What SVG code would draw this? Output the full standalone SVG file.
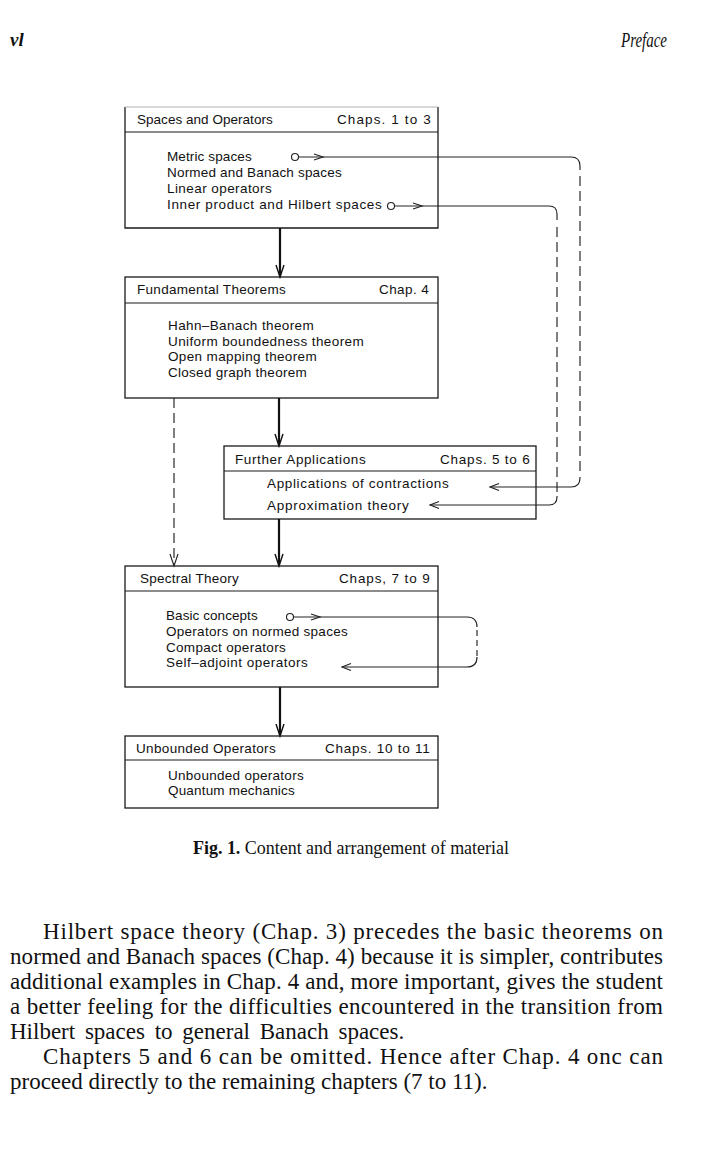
<svg xmlns="http://www.w3.org/2000/svg" xmlns:xlink="http://www.w3.org/1999/xlink" width="702" height="1159" viewBox="0 0 702 1159">
<style>
.bx{fill:none;stroke:#1a1a1a;stroke-width:1.3}
.hl{stroke:#1a1a1a;stroke-width:1.2}
.t{font-family:"Liberation Sans",Arial,sans-serif;font-size:13.5px;fill:#111;letter-spacing:0.3px}
.stem{stroke:#111;stroke-width:2.2;fill:none}
.hd{stroke:#111;stroke-width:1.4;fill:none}
.cn{stroke:#222;stroke-width:1.15;fill:none}
.dl{stroke-dasharray:10 5}
.ds{stroke-dasharray:6 4}
.circ{fill:#fff;stroke:#222;stroke-width:1.15}
.p{font-family:"Liberation Serif","Times New Roman",serif;font-size:23px;fill:#111}
</style>
<defs>
<path id="chevR" d="M-9,-3 L0,0 L-9,3" class="cn"/>
<path id="chevL" d="M9,-3.5 L0,0 L9,3.5" class="cn"/>
<path id="vdown" d="M-4,-12 L0,0 L4,-12" class="hd"/>
</defs>
<rect width="702" height="1159" fill="#fff"/>

<g id="page-header">
<text x="10" y="46" style="font-family:'Liberation Serif',serif;font-size:19px;font-weight:bold;font-style:italic" fill="#111">vl</text>
<text x="667" y="47" text-anchor="end" textLength="46" lengthAdjust="spacingAndGlyphs" style="font-family:'Liberation Serif',serif;font-size:20px;font-style:italic" fill="#111">Preface</text>
</g>

<g id="n-spaces">
<path class="bx" d="M125,107 V228 H438 V107"/>
<path d="M125,107 H438" stroke="#b0b0b0" stroke-width="1"/>
<line class="hl" x1="125" y1="132" x2="438" y2="132"/>
<text class="t" x="137" y="124" textLength="136">Spaces and Operators</text>
<text class="t" x="337" y="124" textLength="94">Chaps. 1 to 3</text>
<text class="t" x="167" y="161" textLength="85">Metric spaces</text>
<text class="t" x="167" y="177" textLength="175">Normed and Banach spaces</text>
<text class="t" x="167" y="193" textLength="105">Linear operators</text>
<text class="t" x="167" y="209" textLength="215">Inner product and Hilbert spaces</text>
</g>

<g id="n-fundamental">
<rect class="bx" x="125" y="277" width="313" height="121"/>
<line class="hl" x1="125" y1="303" x2="438" y2="303"/>
<text class="t" x="137" y="294" textLength="149">Fundamental Theorems</text>
<text class="t" x="379" y="294" textLength="50">Chap. 4</text>
<text class="t" x="168" y="330" textLength="146">Hahn–Banach theorem</text>
<text class="t" x="168" y="346" textLength="196">Uniform boundedness theorem</text>
<text class="t" x="168" y="361" textLength="149">Open mapping theorem</text>
<text class="t" x="168" y="377" textLength="139">Closed graph theorem</text>
</g>

<g id="n-further">
<rect class="bx" x="224" y="446" width="312" height="73"/>
<line class="hl" x1="224" y1="471" x2="536" y2="471"/>
<text class="t" x="235" y="464" textLength="131">Further Applications</text>
<text class="t" x="440" y="464" textLength="90">Chaps. 5 to 6</text>
<text class="t" x="267" y="488" textLength="182">Applications of contractions</text>
<text class="t" x="267" y="510" textLength="142">Approximation theory</text>
</g>

<g id="n-spectral">
<rect class="bx" x="125" y="566" width="313" height="121"/>
<line class="hl" x1="125" y1="591" x2="438" y2="591"/>
<text class="t" x="140" y="583" textLength="99">Spectral Theory</text>
<text class="t" x="339" y="583" textLength="91">Chaps, 7 to 9</text>
<text class="t" x="166" y="620" textLength="92">Basic concepts</text>
<text class="t" x="166" y="636" textLength="182">Operators on normed spaces</text>
<text class="t" x="166" y="652" textLength="120">Compact operators</text>
<text class="t" x="166" y="667" textLength="142">Self–adjoint operators</text>
</g>

<g id="n-unbounded">
<rect class="bx" x="125" y="736" width="313" height="72"/>
<line class="hl" x1="125" y1="760" x2="438" y2="760"/>
<text class="t" x="136" y="753" textLength="140">Unbounded Operators</text>
<text class="t" x="325" y="753" textLength="105">Chaps. 10 to 11</text>
<text class="t" x="168" y="780" textLength="136">Unbounded operators</text>
<text class="t" x="168" y="795" textLength="127">Quantum mechanics</text>
</g>

<g id="connectors">
<line class="stem" x1="280" y1="228" x2="280" y2="276"/>
<use xlink:href="#vdown" x="280" y="277"/>
<line class="stem" x1="279" y1="398" x2="279" y2="445"/>
<use xlink:href="#vdown" x="279" y="446"/>
<line class="stem" x1="279" y1="519" x2="279" y2="565"/>
<use xlink:href="#vdown" x="279" y="566"/>
<line class="stem" x1="280" y1="687" x2="280" y2="735"/>
<use xlink:href="#vdown" x="280" y="736"/>

<line class="cn dl" x1="174" y1="398" x2="174" y2="565" stroke-width="1.3"/>
<path d="M170,554 L174,566 L178,554" class="cn" stroke-width="1.3"/>

<circle class="circ" cx="295" cy="157" r="3.5"/>
<path class="cn" d="M298.5,157 H571 Q580,157 580,166 V170"/>
<line class="cn dl" x1="580" y1="176" x2="580" y2="474"/>
<path class="cn" d="M580,477 V478 Q580,487 571,487 H490"/>
<use xlink:href="#chevR" x="323" y="157"/>
<use xlink:href="#chevL" x="490" y="487"/>

<circle class="circ" cx="391" cy="206" r="3.5"/>
<path class="cn" d="M394.5,206 H549 Q557,206 557,214 V220"/>
<line class="cn dl" x1="557" y1="227" x2="557" y2="493"/>
<path class="cn" d="M557,496 V497 Q557,505 549,505 H430"/>
<use xlink:href="#chevR" x="422" y="206"/>
<use xlink:href="#chevL" x="430" y="505"/>

<circle class="circ" cx="290" cy="617" r="3.5"/>
<path class="cn" d="M293.5,617 H467 Q477,617 477,627"/>
<line class="cn ds" x1="477" y1="630" x2="477" y2="656"/>
<path class="cn" d="M477,657 Q477,667 467,667 H342"/>
<use xlink:href="#chevR" x="320" y="617"/>
<use xlink:href="#chevL" x="342" y="667"/>
</g>

<g id="caption">
<text x="193" y="854" textLength="316" style="font-family:'Liberation Serif','Times New Roman',serif;font-size:18px" fill="#111"><tspan font-weight="bold">Fig. 1.</tspan> Content and arrangement of material</text>
</g>

<g id="body-text">
<text class="p" x="43" y="939" textLength="620">Hilbert space theory (Chap. 3) precedes the basic theorems on</text>
<text class="p" x="10" y="964" textLength="653">normed and Banach spaces (Chap. 4) because it is simpler, contributes</text>
<text class="p" x="10" y="989" textLength="653">additional examples in Chap. 4 and, more important, gives the student</text>
<text class="p" x="10" y="1014" textLength="653">a better feeling for the difficulties encountered in the transition from</text>
<text class="p" x="10" y="1039" style="word-spacing:4px">Hilbert spaces to general Banach spaces.</text>
<text class="p" x="43" y="1064" textLength="620">Chapters 5 and 6 can be omitted. Hence after Chap. 4 onc can</text>
<text class="p" x="10" y="1089">proceed directly to the remaining chapters (7 to 11).</text>
</g>
</svg>
